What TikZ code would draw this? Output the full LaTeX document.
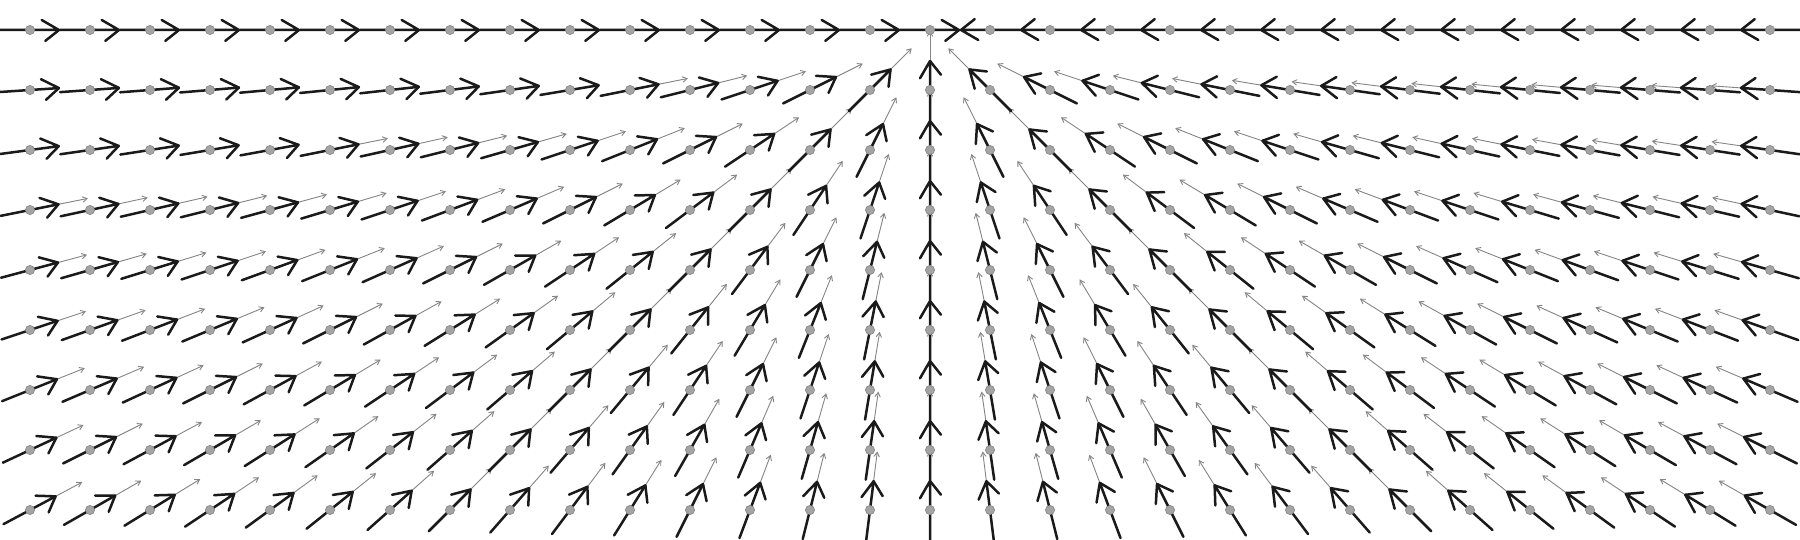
\documentclass[tikz,border=0pt]{standalone}
\usetikzlibrary{arrows.meta}
\definecolor{dotfill}{HTML}{A4A4A4}
\definecolor{dotline}{HTML}{868686}
\definecolor{thincol}{HTML}{858585}
\definecolor{shaftcol}{HTML}{1A1A1A}
\newcommand\myangle[2]{%
  \pgfmathtruncatemacro\iscenter{(#1==15)&&(#2==0)}%
  \ifnum\iscenter=1 \def\ang{0}\else
  \pgfmathsetmacro\ang{atan2(-60*#2,900-60*#1)}\fi
  \pgfmathsetmacro\px{30+60*#1}%
  \pgfmathsetmacro\py{30+60*#2}%
}
\begin{document}
\begin{tikzpicture}[x=1pt,y=-1pt,
  shaftline/.style={draw=shaftcol,line width=2.5pt,line cap=round,line join=round},
  thinarrow/.style={draw=thincol,line width=0.9pt,-{Straight Barb[length=4.5pt,width=5.5pt]}},
  gdot/.style={fill=dotfill,draw=dotline,line width=0.6pt}]
\useasboundingbox (0,0) rectangle (1800,540);
\fill[white] (0,0) rectangle (1800,540);
% thin gray arrows
\foreach \i in {0,...,29}{
  \foreach \j in {0,...,8}{
    \myangle{\i}{\j}
    \pgfmathtruncatemacro\vis{(\j>0)*((\i>=15)+(\j*1000>=195*(15-\i)))}
    \ifnum\vis>0
      \draw[thinarrow] (\px,\py) ++(\ang:29) -- ++(\ang:30);
    \fi
  }
}
% thick black arrows
\foreach \i in {0,...,29}{
  \foreach \j in {0,...,8}{
    \myangle{\i}{\j}
    \draw[shaftline] (\px,\py) ++(\ang+180:30) -- ++(\ang:59) coordinate (t)
      -- ++(\ang+210:20);
    \draw[shaftline] (t) -- ++(\ang+141.5:17.5);
  }
}
% gray dots
\foreach \i in {0,...,29}{
  \foreach \j in {0,...,8}{
    \pgfmathsetmacro\px{30+60*\i}
    \pgfmathsetmacro\py{30+60*\j}
    \filldraw[gdot] (\px,\py) circle (4.6);
  }
}
\end{tikzpicture}
\end{document}
